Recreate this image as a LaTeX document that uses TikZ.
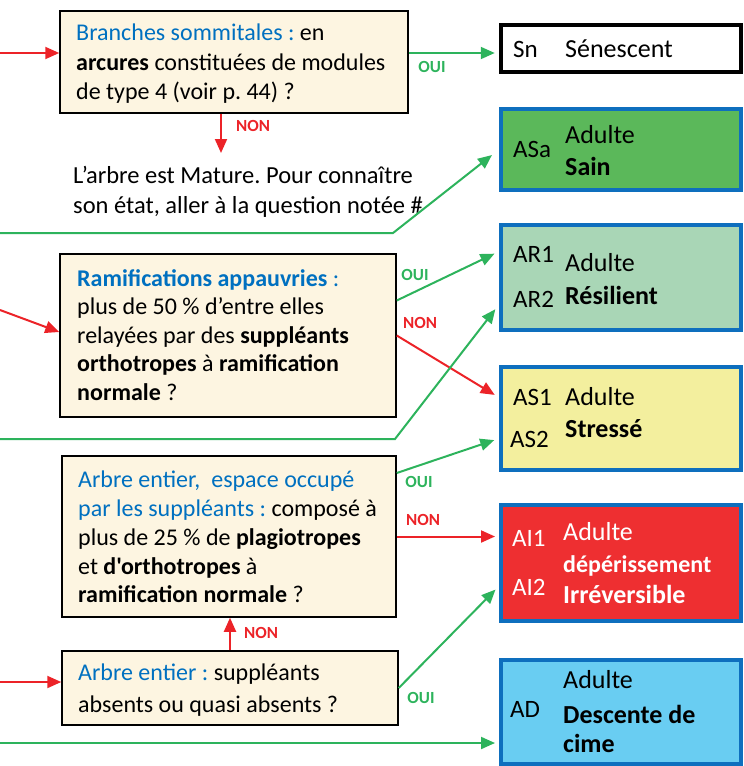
\documentclass[tikz,border=0pt]{standalone}
\usepackage{fontspec}
\setmainfont{Carlito}[Ligatures=TeXOff]
\definecolor{qblue}{RGB}{0,112,192}
\definecolor{ouigreen}{RGB}{45,179,92}
\definecolor{nonred}{RGB}{236,35,40}
\definecolor{qcream}{RGB}{253,245,225}
\definecolor{rblue}{RGB}{14,111,190}
\definecolor{sainfill}{RGB}{91,184,90}
\definecolor{resfill}{RGB}{169,214,182}
\definecolor{strfill}{RGB}{243,239,158}
\definecolor{irrfill}{RGB}{238,47,49}
\definecolor{desfill}{RGB}{105,205,242}
\usetikzlibrary{arrows.meta}
\frenchspacing

\begin{document}
\begin{tikzpicture}[
  x=1pt, y=-1pt,
  qbox/.style={draw=black, line width=1.5pt, fill=qcream, inner sep=0pt},
  qtext/.style={anchor=north west, align=left, inner sep=0pt,
    font=\fontsize{24}{29.5}\selectfont},
  rbox/.style={draw=rblue, line width=4pt, minimum width=240pt, inner sep=0pt},
  rcode/.style={anchor=base west, inner sep=0pt, font=\fontsize{25}{30}\selectfont},
  rtext/.style={anchor=base west, inner sep=0pt, font=\fontsize{26}{30}\selectfont},
  oui/.style={-{Triangle[length=14pt,width=12pt]}, line width=2pt, ouigreen},
  non/.style={-{Triangle[length=14pt,width=12pt]}, line width=2pt, nonred},
  ouilbl/.style={font=\bfseries\fontsize{17}{17}\selectfont, text=ouigreen},
  nonlbl/.style={font=\bfseries\fontsize{17}{17}\selectfont, text=nonred},
]
\useasboundingbox (0,0) rectangle (744,766);

% Question 1: branches sommitales
\node[qbox, minimum width=348pt, minimum height=102pt] (q1) at (234,62) {};
\node[qtext] (q1t) at (76,24) {%
  {\color{qblue}Branches sommitales :} en\\
  \textbf{arcures} constituées de modules\\
  de type 4 (voir p. 44) ?};
\node[qtext, font=\fontsize{24.5}{30}\selectfont] (mature) at (73,166) {%
  L’arbre est Mature. Pour connaître\\
  son état, aller à la question notée \#};

% Question 2: ramifications
\node[qbox, minimum width=336pt, minimum height=163pt] (q2) at (228,335.5) {};
\node[qtext, font=\fontsize{24}{28.5}\selectfont] (q2t) at (77,269) {%
  {\color{qblue}\textbf{Ramifications appauvries} :}\\
  plus de 50 \% d’entre elles\\
  relayées par des \textbf{suppléants}\\
  \textbf{orthotropes} à \textbf{ramification}\\
  \textbf{normale} ?};

% Question 3: espace occupe
\node[qbox, minimum width=334pt, minimum height=161pt] (q3) at (229,536.5) {};
\node[qtext, font=\fontsize{24}{28.75}\selectfont] (q3t) at (78,471) {%
  {\color{qblue}Arbre entier,~ espace occupé}\\
  {\color{qblue}par les suppléants :} composé à\\
  plus de 25 \% de \textbf{plagiotropes}\\
  et \textbf{d'orthotropes} à\\
  \textbf{ramification normale} ?};

% Question 4: suppleants absents
\node[qbox, minimum width=336pt, minimum height=74pt] (q4) at (230,688) {};
\node[qtext, font=\fontsize{24}{31.5}\selectfont] (q4t) at (78,664) {%
  {\color{qblue}Arbre entier :} suppléants\\
  absents ou quasi absents ?};

% Results
\node[rbox, draw=black, line width=4.5pt, minimum height=47pt] (sn) at (621,48.5) {};
\node[rcode] (snc) at (513,57) {Sn};
\node[rtext] (snl) at (565,57) {Sénescent};

\node[rbox, fill=sainfill, minimum height=81pt] (asa) at (621,149.5) {};
\node[rcode] (asac) at (513,157) {ASa};
\node[rtext] (asal) at (565,143) {Adulte};
\node[rtext] (asab) at (565,175) {\textbf{Sain}};

\node[rbox, fill=resfill, minimum height=105pt] (ar) at (621,277.5) {};
\node[rcode] (ar1) at (513,262) {AR1};
\node[rcode] (ar2) at (513,307) {AR2};
\node[rtext] (arl) at (565,271) {Adulte};
\node[rtext] (arb) at (565,304) {\textbf{Résilient}};

\node[rbox, fill=strfill, minimum height=103pt] (as) at (621,418.5) {};
\node[rcode] (as1) at (513,405) {AS1};
\node[rcode] (as2) at (510,447) {AS2};
\node[rtext] (asl) at (565,405) {Adulte};
\node[rtext] (asb) at (565,437) {\textbf{Stressé}};

\node[rbox, fill=irrfill, minimum height=116pt] (ai) at (621,563) {};
\node[rcode, text=white] (ai1) at (512,546) {AI1};
\node[rcode, text=white] (ai2) at (512,595) {AI2};
\node[rtext, text=white] (ail) at (563,540) {Adulte};
\node[rtext, text=white, font=\bfseries\fontsize{24}{28}\selectfont] (aib) at (563,572) {dépérissement};
\node[rtext, text=white] (aic) at (563,603) {\textbf{Irréversible}};

\node[rbox, fill=desfill, minimum height=104pt] (ad) at (621,712) {};
\node[rcode] (adc) at (510,717) {AD};
\node[rtext] (adl) at (563,688) {Adulte};
\node[rtext] (adb) at (563,723) {\textbf{Descente de}};
\node[rtext] (adm) at (563,752) {\textbf{cime}};

% Free ends
\coordinate (in1) at (0,53);
\coordinate (in2) at (0,310);
\coordinate (in4) at (0,682);
\coordinate (g1) at (0,233);
\coordinate (k1) at (393,233);
\coordinate (g2) at (0,439);
\coordinate (k2) at (395,439);
\coordinate (g3) at (0,743);
\coordinate (m1) at (221,153);

% Arrows
\draw[non] (in1) -- (in1 -| q1.west);
\draw[oui, shorten >=4pt] (q1.east |- in1) -- (sn.west |- in1);
\draw[non] ([xshift=-13pt]q1.south) -- (m1);
\draw[oui, shorten >=9pt] (g1) -- (k1) -- (asa.west);
\draw[non] (in2) -- ([yshift=3.5pt]q2.west);
\draw[oui, shorten >=5pt] ([yshift=35pt]q2.east) -- ([yshift=26pt]ar.west);
\draw[non, shorten >=5pt] (q2.east) -- ([yshift=21pt]as.west);
\draw[oui, shorten >=6pt] (g2) -- (k2) -- ([yshift=-27pt]ar.west);
\draw[oui, shorten >=5pt] ([yshift=63.5pt]q3.east) -- ([yshift=-20pt]as.west);
\draw[non, shorten >=4pt] (q3.east) -- (q3.east -| ai.west);
\draw[non] (q4.north) -- (q4.north |- q3.south);
\draw[non] (in4) -- (in4 -| q4.west);
\draw[oui, shorten >=5pt] (q4.east) -- ([yshift=-23pt]ai.west);
\draw[oui, shorten >=4pt] (g3) -- (g3 -| ad.west);

% Labels
\node[ouilbl] (oui1) at (432,67) {OUI};
\node[nonlbl] (non1) at (253,126) {NON};
\node[ouilbl] (oui2) at (415,275) {OUI};
\node[nonlbl] (non2) at (420,323) {NON};
\node[ouilbl] (oui3) at (419,482) {OUI};
\node[nonlbl] (non3) at (423,520) {NON};
\node[nonlbl] (non4) at (261,633) {NON};
\node[ouilbl] (oui4) at (421,698) {OUI};
\end{tikzpicture}
\end{document}
